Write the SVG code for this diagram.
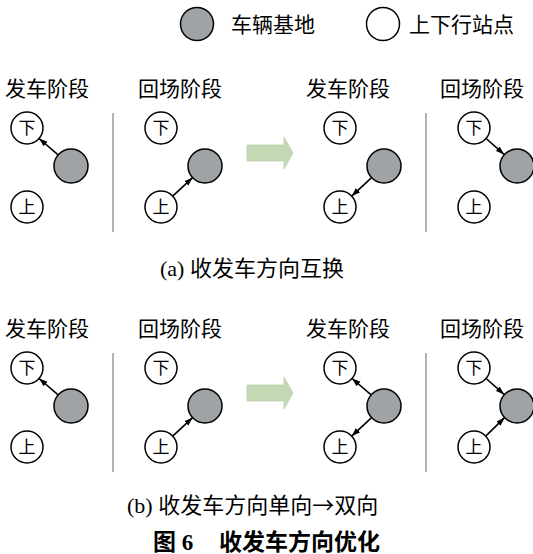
<svg xmlns="http://www.w3.org/2000/svg" width="533" height="554" viewBox="0 0 533 554">
<defs>
<marker id="ah" markerUnits="userSpaceOnUse" markerWidth="9" markerHeight="7" refX="8.5" refY="3.5" orient="auto">
<path d="M0,0.5 L8.5,3.5 L0,6.5 z" fill="#000"/>
</marker>
</defs>
<style>
.st{fill:#fff;stroke:#000;stroke-width:1.5}
.dp{fill:#a0a3a6;stroke:#000;stroke-width:1.5}
.ct{font-family:"Noto Sans CJK SC",sans-serif;font-size:17px;text-anchor:middle;fill:#000}
.lb{font-family:"Noto Sans CJK SC",sans-serif;font-size:21px;fill:#000}
.cap{font-family:"Liberation Serif","Noto Sans CJK SC",serif;font-size:22px;fill:#000}
.cj{font-family:"Noto Sans CJK SC",sans-serif}
.ttl{font-family:"Liberation Serif","Noto Sans CJK SC",serif;font-size:23px;font-weight:bold;fill:#000}
.sep{stroke:#808080;stroke-width:1.2}
.ar{stroke:#000;stroke-width:1.6;fill:none;marker-end:url(#ah)}
.big{fill:#c5d8b4;stroke:#bccfaa;stroke-width:0.8}
</style>
<rect width="533" height="554" fill="#fff"/>

<g id="legend">
<circle class="dp" cx="197" cy="24" r="16.5"/>
<text class="lb" x="231" y="32">车辆基地</text>
<circle class="st" cx="383" cy="24" r="16.5"/>
<text class="lb" x="409" y="32">上下行站点</text>
</g>

<g id="labels">
<text class="lb" x="5" y="96">发车阶段</text>
<text class="lb" x="138" y="96">回场阶段</text>
<text class="lb" x="306" y="96">发车阶段</text>
<text class="lb" x="440" y="96">回场阶段</text>
<text class="lb" x="5" y="336">发车阶段</text>
<text class="lb" x="138" y="336">回场阶段</text>
<text class="lb" x="306" y="336">发车阶段</text>
<text class="lb" x="440" y="336">回场阶段</text>
</g>

<g id="separators">
<line class="sep" x1="113" y1="113" x2="113" y2="232"/>
<line class="sep" x1="426" y1="113" x2="426" y2="232"/>
<line class="sep" x1="113" y1="353" x2="113" y2="472"/>
<line class="sep" x1="426" y1="353" x2="426" y2="472"/>
</g>

<g id="big-arrows">
<path class="big" d="M247,145 L284,145 L284,137 L293,153 L284,169 L284,161 L247,161 z"/>
<path class="big" d="M247,385 L284,385 L284,377 L293,393 L284,409 L284,401 L247,401 z"/>
</g>

<g id="a1-down"><circle class="st" cx="27" cy="128" r="16"/><text class="ct" x="27" y="134">下</text></g>
<g id="a1-up"><circle class="st" cx="27" cy="207" r="16"/><text class="ct" x="27" y="213">上</text></g>
<g id="a1-depot"><circle class="dp" cx="71" cy="166" r="17"/></g>
<g id="a2-down"><circle class="st" cx="161" cy="128" r="16"/><text class="ct" x="161" y="134">下</text></g>
<g id="a2-up"><circle class="st" cx="161" cy="207" r="16"/><text class="ct" x="161" y="213">上</text></g>
<g id="a2-depot"><circle class="dp" cx="205" cy="166" r="17"/></g>
<g id="a3-down"><circle class="st" cx="340" cy="128" r="16"/><text class="ct" x="340" y="134">下</text></g>
<g id="a3-up"><circle class="st" cx="340" cy="207" r="16"/><text class="ct" x="340" y="213">上</text></g>
<g id="a3-depot"><circle class="dp" cx="384" cy="166" r="17"/></g>
<g id="a4-down"><circle class="st" cx="474" cy="128" r="16"/><text class="ct" x="474" y="134">下</text></g>
<g id="a4-up"><circle class="st" cx="474" cy="207" r="16"/><text class="ct" x="474" y="213">上</text></g>
<g id="a4-depot"><circle class="dp" cx="517" cy="166" r="17"/></g>

<g id="b1-down"><circle class="st" cx="27" cy="368" r="16"/><text class="ct" x="27" y="374">下</text></g>
<g id="b1-up"><circle class="st" cx="27" cy="447" r="16"/><text class="ct" x="27" y="453">上</text></g>
<g id="b1-depot"><circle class="dp" cx="71" cy="406" r="17"/></g>
<g id="b2-down"><circle class="st" cx="161" cy="368" r="16"/><text class="ct" x="161" y="374">下</text></g>
<g id="b2-up"><circle class="st" cx="161" cy="447" r="16"/><text class="ct" x="161" y="453">上</text></g>
<g id="b2-depot"><circle class="dp" cx="205" cy="406" r="17"/></g>
<g id="b3-down"><circle class="st" cx="340" cy="368" r="16"/><text class="ct" x="340" y="374">下</text></g>
<g id="b3-up"><circle class="st" cx="340" cy="447" r="16"/><text class="ct" x="340" y="453">上</text></g>
<g id="b3-depot"><circle class="dp" cx="384" cy="406" r="17"/></g>
<g id="b4-down"><circle class="st" cx="474" cy="368" r="16"/><text class="ct" x="474" y="374">下</text></g>
<g id="b4-up"><circle class="st" cx="474" cy="447" r="16"/><text class="ct" x="474" y="453">上</text></g>
<g id="b4-depot"><circle class="dp" cx="517" cy="406" r="17"/></g>

<g id="connectors">
<line class="ar" x1="58.1" y1="154.9" x2="39.1" y2="138.5"/>
<line class="ar" x1="172.7" y1="196.1" x2="192.6" y2="177.6"/>
<line class="ar" x1="371.6" y1="177.6" x2="351.7" y2="196.1"/>
<line class="ar" x1="486.1" y1="138.5" x2="504.1" y2="154.4"/>
<line class="ar" x1="58.1" y1="394.9" x2="39.1" y2="378.5"/>
<line class="ar" x1="172.7" y1="436.1" x2="192.6" y2="417.6"/>
<line class="ar" x1="371.1" y1="394.9" x2="352.1" y2="378.5"/>
<line class="ar" x1="371.6" y1="417.6" x2="351.7" y2="436.1"/>
<line class="ar" x1="486.1" y1="378.5" x2="504.1" y2="394.4"/>
<line class="ar" x1="485.7" y1="436.1" x2="504.6" y2="417.6"/>
</g>

<g id="captions">
<text class="cap" x="160" y="276">(a) 收发车方向互换</text>
<text class="cap" x="127" y="513">(b) 收发车方向单向<tspan class="cj">→</tspan>双向</text>
<text class="ttl" x="153" y="550">图 6</text>
<text class="ttl" x="219" y="550">收发车方向优化</text>
</g>
</svg>
